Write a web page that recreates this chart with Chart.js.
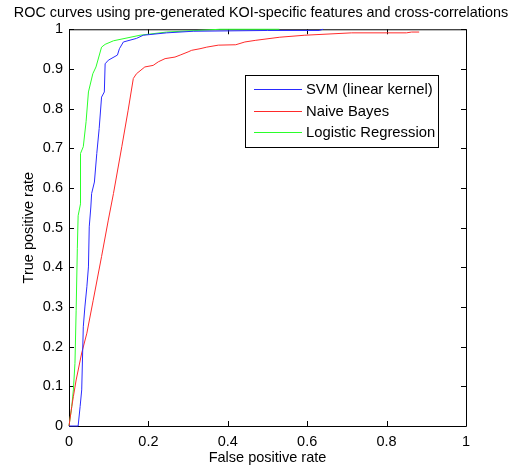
<!DOCTYPE html>
<html>
<head>
<meta charset="utf-8">
<script src="https://cdn.jsdelivr.net/npm/chart.js@4.4.0/dist/chart.umd.min.js"></script>
<style>
  html, body { margin: 0; padding: 0; background: #fff; }
  #wrap { width: 522px; height: 468px; }
</style>
</head>
<body>
<div id="wrap"><canvas id="roc" width="522" height="468"></canvas></div>
<script>
// --- ROC data ---
const seriesNames = ['SVM (linear kernel)', 'Naive Bayes', 'Logistic Regression'];
const seriesColors = ['#2a2aff', '#ff2a2a', '#2aff2a'];

const svmFpr = [0, 0.023, 0.028, 0.032, 0.036, 0.04, 0.045, 0.049, 0.051, 0.055, 0.057, 0.064, 0.07, 0.076, 0.082, 0.089, 0.091, 0.099, 0.122, 0.127, 0.137, 0.17, 0.187, 0.246, 0.313, 0.5, 0.63, 0.64];
const svmTpr = [0, 0, 0.049, 0.091, 0.25, 0.30, 0.351, 0.401, 0.502, 0.552, 0.586, 0.615, 0.687, 0.75, 0.829, 0.842, 0.913, 0.922, 0.935, 0.951, 0.968, 0.977, 0.985, 0.991, 0.995, 0.997, 0.997, 1.0];

const nbFpr = [0, 0.007, 0.011, 0.018, 0.032, 0.045, 0.061, 0.082, 0.099, 0.112, 0.133, 0.149, 0.162, 0.17, 0.191, 0.212, 0.225, 0.242, 0.267, 0.28, 0.30, 0.309, 0.33, 0.347, 0.376, 0.42, 0.443, 0.469, 0.531, 0.594, 0.712, 0.85, 0.863, 0.882];
const nbTpr = [0, 0.049, 0.074, 0.116, 0.184, 0.234, 0.317, 0.427, 0.519, 0.586, 0.704, 0.796, 0.876, 0.888, 0.905, 0.909, 0.918, 0.926, 0.930, 0.935, 0.943, 0.947, 0.951, 0.955, 0.960, 0.961, 0.968, 0.972, 0.98, 0.985, 0.991, 0.991, 0.993, 0.993];

const lrFpr = [0, 0.007, 0.011, 0.015, 0.018, 0.021, 0.023, 0.029, 0.029, 0.036, 0.043, 0.049, 0.06, 0.068, 0.082, 0.091, 0.112, 0.179, 0.246, 0.38, 0.53];
const lrTpr = [0, 0.049, 0.091, 0.158, 0.292, 0.448, 0.53, 0.56, 0.687, 0.704, 0.767, 0.842, 0.888, 0.905, 0.955, 0.962, 0.971, 0.985, 0.993, 1.0, 1.0];

const xTicks = [0, 0.2, 0.4, 0.6, 0.8, 1];
const yTicks = [0, 0.1, 0.2, 0.3, 0.4, 0.5, 0.6, 0.7, 0.8, 0.9, 1];

const FONT = 'Liberation Sans, Arial, sans-serif';

function pairs(xs, ys) {
  return xs.map((v, i) => ({ x: v, y: ys[i] }));
}

// --- Matlab style frame with inward ticks (drawn under the curves) ---
const frameTicks = {
  id: 'frameTicks',
  beforeDatasetsDraw(chart) {
    const { ctx, chartArea: a, scales: { x, y } } = chart;
    ctx.save();
    ctx.strokeStyle = '#000';
    ctx.lineWidth = 1;
    ctx.beginPath();
    ctx.rect(a.left + 0.5, a.top + 0.5, a.right - a.left, a.bottom - a.top);
    xTicks.forEach(v => {
      const px = Math.round(x.getPixelForValue(v)) + 0.5;
      ctx.moveTo(px, a.bottom); ctx.lineTo(px, a.bottom - 5);
      ctx.moveTo(px, a.top); ctx.lineTo(px, a.top + 5);
    });
    yTicks.forEach(v => {
      const py = Math.round(y.getPixelForValue(v)) + 0.5;
      ctx.moveTo(a.left, py); ctx.lineTo(a.left + 5, py);
      ctx.moveTo(a.right, py); ctx.lineTo(a.right - 5, py);
    });
    ctx.stroke();
    ctx.restore();
  }
};

// --- legend box inside the axes ---
const boxLegend = {
  id: 'boxLegend',
  afterDraw(chart) {
    const { ctx } = chart;
    const left = 245, top = 75, right = 438, bottom = 147;
    ctx.save();
    ctx.fillStyle = '#fff';
    ctx.fillRect(left, top, right - left, bottom - top);
    ctx.strokeStyle = '#000';
    ctx.lineWidth = 1;
    ctx.strokeRect(left + 0.5, top + 0.5, right - left, bottom - top);
    ctx.font = '14.8px ' + FONT;
    ctx.textBaseline = 'middle';
    seriesNames.forEach((name, i) => {
      const yy = 89 + Math.round(i * 21.7);
      ctx.fillStyle = seriesColors[i];
      ctx.fillRect(254, yy, 48, 1);
      ctx.fillStyle = '#000';
      ctx.fillText(name, 306, yy + 0.5);
    });
    ctx.restore();
  }
};

new Chart(document.getElementById('roc'), {
  type: 'scatter',
  data: {
    datasets: [
      { label: seriesNames[0], data: pairs(svmFpr, svmTpr), borderColor: seriesColors[0] },
      { label: seriesNames[1], data: pairs(nbFpr, nbTpr), borderColor: seriesColors[1] },
      { label: seriesNames[2], data: pairs(lrFpr, lrTpr), borderColor: seriesColors[2] }
    ].map(d => Object.assign(d, { showLine: true, borderWidth: 1, pointRadius: 0, tension: 0, fill: false, clip: 2 }))
  },
  options: {
    responsive: false,
    animation: false,
    devicePixelRatio: 1,
    layout: { padding: 0 },
    plugins: {
      legend: { display: false },
      tooltip: { enabled: false },
      title: {
        display: true,
        text: 'ROC curves using pre-generated KOI-specific features and cross-correlations',
        color: '#000',
        font: { family: FONT, size: 14.4, weight: 'normal', lineHeight: 1.2 },
        padding: { top: 4, bottom: 8 }
      }
    },
    scales: {
      x: {
        type: 'linear', min: 0, max: 1,
        afterBuildTicks: s => { s.ticks = xTicks.map(v => ({ value: v })); },
        afterFit: s => { s.height = 42; },
        grid: { display: false, drawTicks: false },
        border: { display: false },
        ticks: { color: '#000', padding: 7, maxRotation: 0, font: { family: FONT, size: 14.5 }, callback: v => String(v) },
        title: { display: true, text: 'False positive rate', color: '#000', font: { family: FONT, size: 14.5 }, padding: { top: 0, bottom: 1 } }
      },
      y: {
        type: 'linear', min: 0, max: 1,
        afterBuildTicks: s => { s.ticks = yTicks.map(v => ({ value: v })); },
        afterFit: s => { s.width = 69; },
        grid: { display: false, drawTicks: false },
        border: { display: false },
        ticks: { color: '#000', padding: 6, font: { family: FONT, size: 14.5 }, callback: v => String(v) },
        title: { display: true, text: 'True positive rate', color: '#000', font: { family: FONT, size: 14.5 }, padding: { top: 20, bottom: 0 } }
      },
      yRight: {
        type: 'linear', position: 'right', min: 0, max: 1,
        afterFit: s => { s.width = 56; },
        grid: { display: false, drawTicks: false },
        border: { display: false },
        ticks: { display: false }
      }
    }
  },
  plugins: [frameTicks, boxLegend]
});
</script>
</body>
</html>
